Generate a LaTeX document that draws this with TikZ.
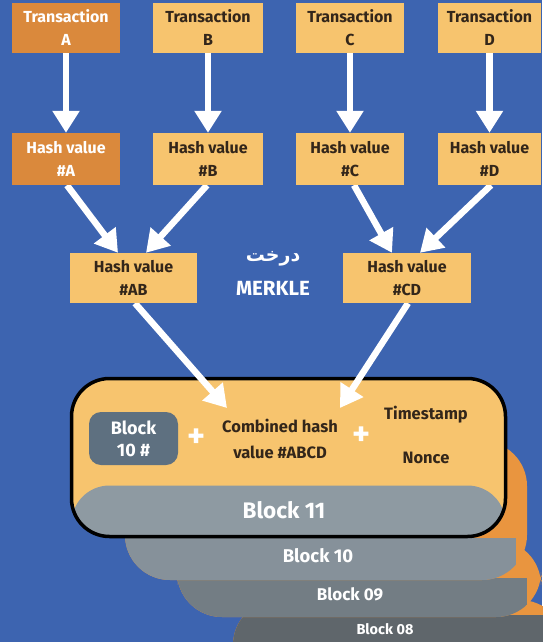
\documentclass[tikz,border=0pt]{standalone}
\usepackage{fontspec}
\setmainfont{Fira Sans}
\newfontfamily\arabicfont[Script=Arabic]{DejaVu Sans}
\TeXXeTstate=1
\usetikzlibrary{arrows.meta}
\definecolor{bgblue}{HTML}{3D64B0}
\definecolor{lightor}{HTML}{F7C46E}
\definecolor{darkor}{HTML}{DA893C}
\definecolor{edgeor}{HTML}{E9953F}
\definecolor{darktext}{HTML}{33261A}
\definecolor{innerbox}{HTML}{5E7080}
\definecolor{greyA}{HTML}{8E9AA2}
\definecolor{greyB}{HTML}{86919A}
\definecolor{greyC}{HTML}{737D84}
\definecolor{greyD}{HTML}{5F666B}
\pgfdeclarelayer{bglayer}
\pgfdeclarelayer{stacklayer}
\pgfdeclarelayer{arrowlayer}
\pgfsetlayers{bglayer,stacklayer,arrowlayer,main}
\tikzset{
  box/.style={fill=lightor, minimum width=108pt, minimum height=50pt, inner sep=0pt,
    align=center, text=darktext, font=\bfseries\fontsize{16}{23}\selectfont},
  darkbox/.style={box, fill=darkor, text=white},
  arr/.style={draw=white, line width=6.5pt, -{Triangle[width=26pt,length=22pt]}},
  lbl/.style={inner sep=0pt, text=darktext, font=\bfseries\fontsize{16.5}{19}\selectfont, align=center},
  wlbl/.style={inner sep=0pt, text=white, align=center},
  plus/.style={inner sep=0pt, text=white, font=\bfseries\fontsize{34}{34}\selectfont, text height=12pt, text depth=0pt},
}
\begin{document}
\begin{tikzpicture}[x=1pt,y=-1pt]
\useasboundingbox (0,0) rectangle (542,642);
\begin{pgfonlayer}{bglayer}
  \fill[bgblue] (0,0) rectangle (542,642);
\end{pgfonlayer}

% block stack
\begin{pgfonlayer}{stacklayer}
  % Block 08
  \begin{scope}
    \clip[rounded corners=45pt] (233,600) rectangle (565,690);
    \fill[edgeor] (0,0) rectangle (600,700);
    \fill[greyD] (0,615) rectangle (550,700);
  \end{scope}
  % Block 09
  \begin{scope}
    \clip[rounded corners=45pt] (177,540) rectangle (541,617);
    \fill[edgeor] (0,0) rectangle (600,700);
    \fill[greyC] (0,578) rectangle (527,617);
  \end{scope}
  % Block 10
  \begin{scope}
    \clip[rounded corners=45pt] (125,441) rectangle (527,580);
    \fill[edgeor] (0,0) rectangle (600,700);
    \fill[greyB] (0,538) rectangle (516,580);
  \end{scope}
  % Block 11
  \node[draw=black, line width=3.5pt, rounded corners=38pt, fill=lightor,
        minimum width=434pt, minimum height=158pt, inner sep=0pt,
        path picture={\fill[greyA] (path picture bounding box.south west) rectangle ([yshift=51pt]path picture bounding box.south east);}]
        (b11) at (288.5,457.5) {};
\end{pgfonlayer}

% top boxes
\node[darkbox] (ta) at (66,28) {Transaction\\A};
\node[box, minimum width=110pt] (tb) at (208,28) {Transaction\\B};
\node[box] (tc) at (350,28) {Transaction\\C};
\node[box, minimum width=103pt] (td) at (489.5,28) {Transaction\\D};

\node[darkbox, minimum height=52pt] (ha) at (66,159) {Hash value\\\#A};
\node[box, minimum width=110pt, minimum height=52pt] (hb) at (208,159) {Hash value\\\#B};
\node[box, minimum height=52pt] (hc) at (350,159) {Hash value\\\#C};
\node[box, minimum width=103pt, minimum height=52pt] (hd) at (489.5,159) {Hash value\\\#D};

\node[box, minimum width=127pt] (hab) at (133.5,278) {Hash value\\\#AB};
\node[box, minimum width=128pt] (hcd) at (407,278) {Hash value\\\#CD};

\node[wlbl, font=\fontsize{19}{21}\arabicfont\bfseries\selectfont] (mt1) at (273,259) {\beginR درخت\endR};
\node[wlbl, font=\bfseries\fontsize{20.5}{22}\selectfont] (mt2) at (273,288) {MERKLE};

% inside block 11
\node[fill=innerbox, rounded corners=12pt, minimum width=89pt, minimum height=53pt, inner sep=0pt,
      text=white, align=center, font=\bfseries\fontsize{18}{22}\selectfont] (b10h) at (133.5,438.5) {Block\\10 \#};
\node[plus] (p1) at (197,441) {+};
\node[lbl] (comb1) at (280,426) {Combined hash};
\node[lbl] (comb2) at (280,452.5) {value \#ABCD};
\node[plus] (p2) at (362,439) {+};
\node[lbl] (ts) at (426,415) {Timestamp};
\node[lbl] (nonce) at (426,458) {Nonce};
\node[wlbl, font=\bfseries\fontsize{22.5}{24}\selectfont] (l11) at (284,510) {Block 11};
\node[wlbl, font=\bfseries\fontsize{18.5}{20}\selectfont] (l10) at (318,556) {Block 10};
\node[wlbl, font=\bfseries\fontsize{17}{19}\selectfont] (l09) at (350,594) {Block 09};
\node[wlbl, font=\bfseries\fontsize{14.5}{16}\selectfont] (l08) at (385,629) {Block 08};

\coordinate (c1) at (227,408);
\coordinate (c2) at (340,408);

\begin{pgfonlayer}{arrowlayer}
  \draw[arr] (ta.south) -- (ha.north);
  \draw[arr] (tb.south) -- (hb.north);
  \draw[arr] (tc.south) -- (hc.north);
  \draw[arr] (td.south) -- (hd.north);
  \draw[arr] ([xshift=1pt]ha.south) -- ([xshift=-15.5pt]hab.north);
  \draw[arr] ([xshift=-1pt]hb.south) -- ([xshift=12.5pt]hab.north);
  \draw[arr] ([xshift=4pt]hc.south) -- ([xshift=-15pt]hcd.north);
  \draw[arr] ([xshift=1.5pt]hd.south) -- ([xshift=13pt]hcd.north);
  \draw[arr] ([xshift=1.5pt]hab.south) -- (c1);
  \draw[arr] ([xshift=1pt]hcd.south) -- (c2);
\end{pgfonlayer}
\end{tikzpicture}
\end{document}
